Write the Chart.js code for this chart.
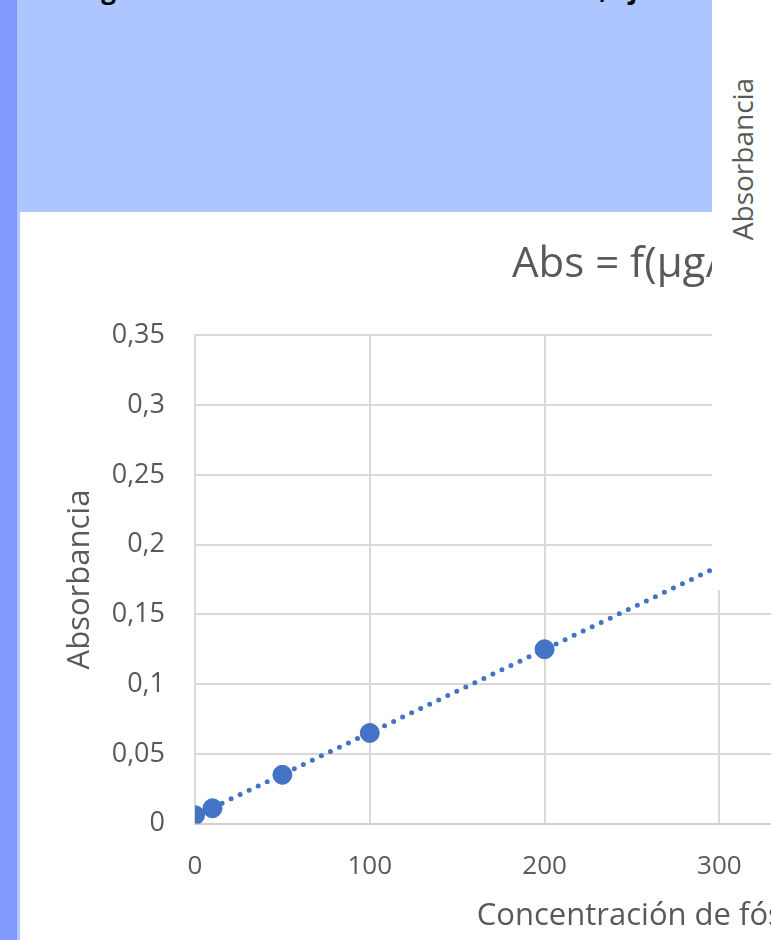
<!DOCTYPE html>
<html lang="es">
<head>
  <meta charset="UTF-8">
  <title>Abs = f(μg/mL)</title>
  <script src="https://cdn.jsdelivr.net/npm/chart.js"></script>
  <style>
    html, body {
      margin: 0;
      padding: 0;
      width: 771px;
      height: 940px;
      overflow: hidden;
      background: #ffffff;
      font-family: "Open Sans", sans-serif;
    }
    .strip {
      position: absolute;
      left: 0; top: 0;
      width: 17px; height: 940px;
      background: #8099ff;
    }
    .strip-edge {
      position: absolute;
      left: 17px; top: 212px;
      width: 3px; height: 728px;
      background: #aec6ff;
    }
    .caption {
      position: absolute;
      left: 17px; top: 0;
      width: 695px; height: 212px;
      background: #aec6ff;
      overflow: hidden;
    }
    .caption p {
      position: absolute;
      left: 62px; top: -29px;
      margin: 0;
      white-space: nowrap;
      font-weight: bold;
      font-size: 26px;
      color: #000;
    }
    .chart-box {
      position: absolute;
      left: 20px; top: 212px;
      width: 1273px; height: 728px;
    }
    .overlay {
      position: absolute;
      left: 712px; top: 0;
      width: 59px; height: 590px;
      background: #ffffff;
    }
    .overlay span {
      position: absolute;
      left: 30px; top: 159px;
      transform: translate(-50%, -50%) rotate(-90deg);
      font-size: 28px;
      color: #595959;
      white-space: nowrap;
    }
  </style>
</head>
<body>
  <div class="strip"></div>
  <div class="strip-edge"></div>
  <div class="caption">
    <p>Figura 1. Curva de calibración de fósforo, ajuste lineal y ecuación de la recta en μg</p>
  </div>
  <div class="chart-box">
    <canvas id="absChart"></canvas>
  </div>
  <div class="overlay"><span>Absorbancia</span></div>

  <script>
    // concentraciones (μg/mL) y absorbancias
    const concentracion = [0, 10, 50, 100, 200];
    const absorbancia = [0.006, 0.011, 0.035, 0.065, 0.125];
    const xTicks = [0, 100, 200, 300, 400, 500, 600];
    const yTicks = [0, 0.05, 0.1, 0.15, 0.2, 0.25, 0.3, 0.35];
    const trendEnd = 300;

    // recta de minimos cuadrados (linea de tendencia)
    const n = concentracion.length;
    const mx = concentracion.reduce((a, b) => a + b, 0) / n;
    const my = absorbancia.reduce((a, b) => a + b, 0) / n;
    let sxy = 0, sxx = 0;
    concentracion.forEach((x, i) => {
      sxy += (x - mx) * (absorbancia[i] - my);
      sxx += (x - mx) * (x - mx);
    });
    const slope = sxy / sxx;
    const intercept = my - slope * mx;

    const puntos = concentracion.map((x, i) => ({ x: x, y: absorbancia[i] }));
    const tendencia = [
      { x: 0, y: intercept },
      { x: trendEnd, y: intercept + slope * trendEnd }
    ];

    const grey = "#595959";
    const gridColor = "#d9d9d9";

    new Chart(document.getElementById("absChart"), {
      type: "scatter",
      data: {
        datasets: [
          {
            type: "line",
            label: "Lineal",
            data: tendencia,
            borderColor: "#4472c4",
            borderWidth: 5,
            borderDash: [0, 10],
            borderCapStyle: "round",
            pointRadius: 0,
            fill: false
          },
          {
            label: "Abs",
            data: puntos,
            backgroundColor: "#4472c4",
            borderColor: "#4472c4",
            pointRadius: 9.5,
            pointHoverRadius: 9.5
          }
        ]
      },
      options: {
        responsive: true,
        maintainAspectRatio: false,
        animation: false,
        layout: { padding: { left: 23, right: 30, top: 0, bottom: 0 } },
        plugins: {
          legend: { display: false },
          tooltip: { enabled: false },
          title: {
            display: true,
            text: "Abs = f(μg/mL)",
            color: grey,
            font: { family: "Open Sans", size: 42, weight: "normal" },
            padding: { top: 28, bottom: 45 }
          }
        },
        scales: {
          x: {
            type: "linear",
            min: 0,
            max: 600,
            afterBuildTicks: (scale) => {
              scale.ticks = xTicks.map(v => ({ value: v }));
            },
            grid: { color: gridColor, lineWidth: 2, drawTicks: false },
            border: { color: "#cfcfcf", width: 2 },
            ticks: {
              color: grey,
              padding: 27,
              font: { family: "Open Sans", size: 26 }
            },
            title: {
              display: true,
              text: "Concentración de fósforo (μg/mL)",
              color: grey,
              font: { family: "Open Sans", size: 31 },
              padding: { top: -11, bottom: 5 }
            }
          },
          y: {
            min: 0,
            max: 0.35,
            afterBuildTicks: (scale) => {
              scale.ticks = yTicks.map(v => ({ value: v }));
            },
            afterFit: (scale) => { scale.width = 152; },
            grid: { color: gridColor, lineWidth: 2, drawTicks: false },
            border: { color: gridColor, width: 2 },
            ticks: {
              color: grey,
              padding: 30,
              font: { family: "Open Sans", size: 27 },
              callback: (v) => Number(v.toFixed(2)).toString().replace(".", ",")
            },
            title: {
              display: true,
              text: "Absorbancia",
              color: grey,
              font: { family: "Open Sans", size: 31 },
              padding: { top: 19, bottom: 0 }
            }
          }
        }
      }
    });
  </script>
</body>
</html>
